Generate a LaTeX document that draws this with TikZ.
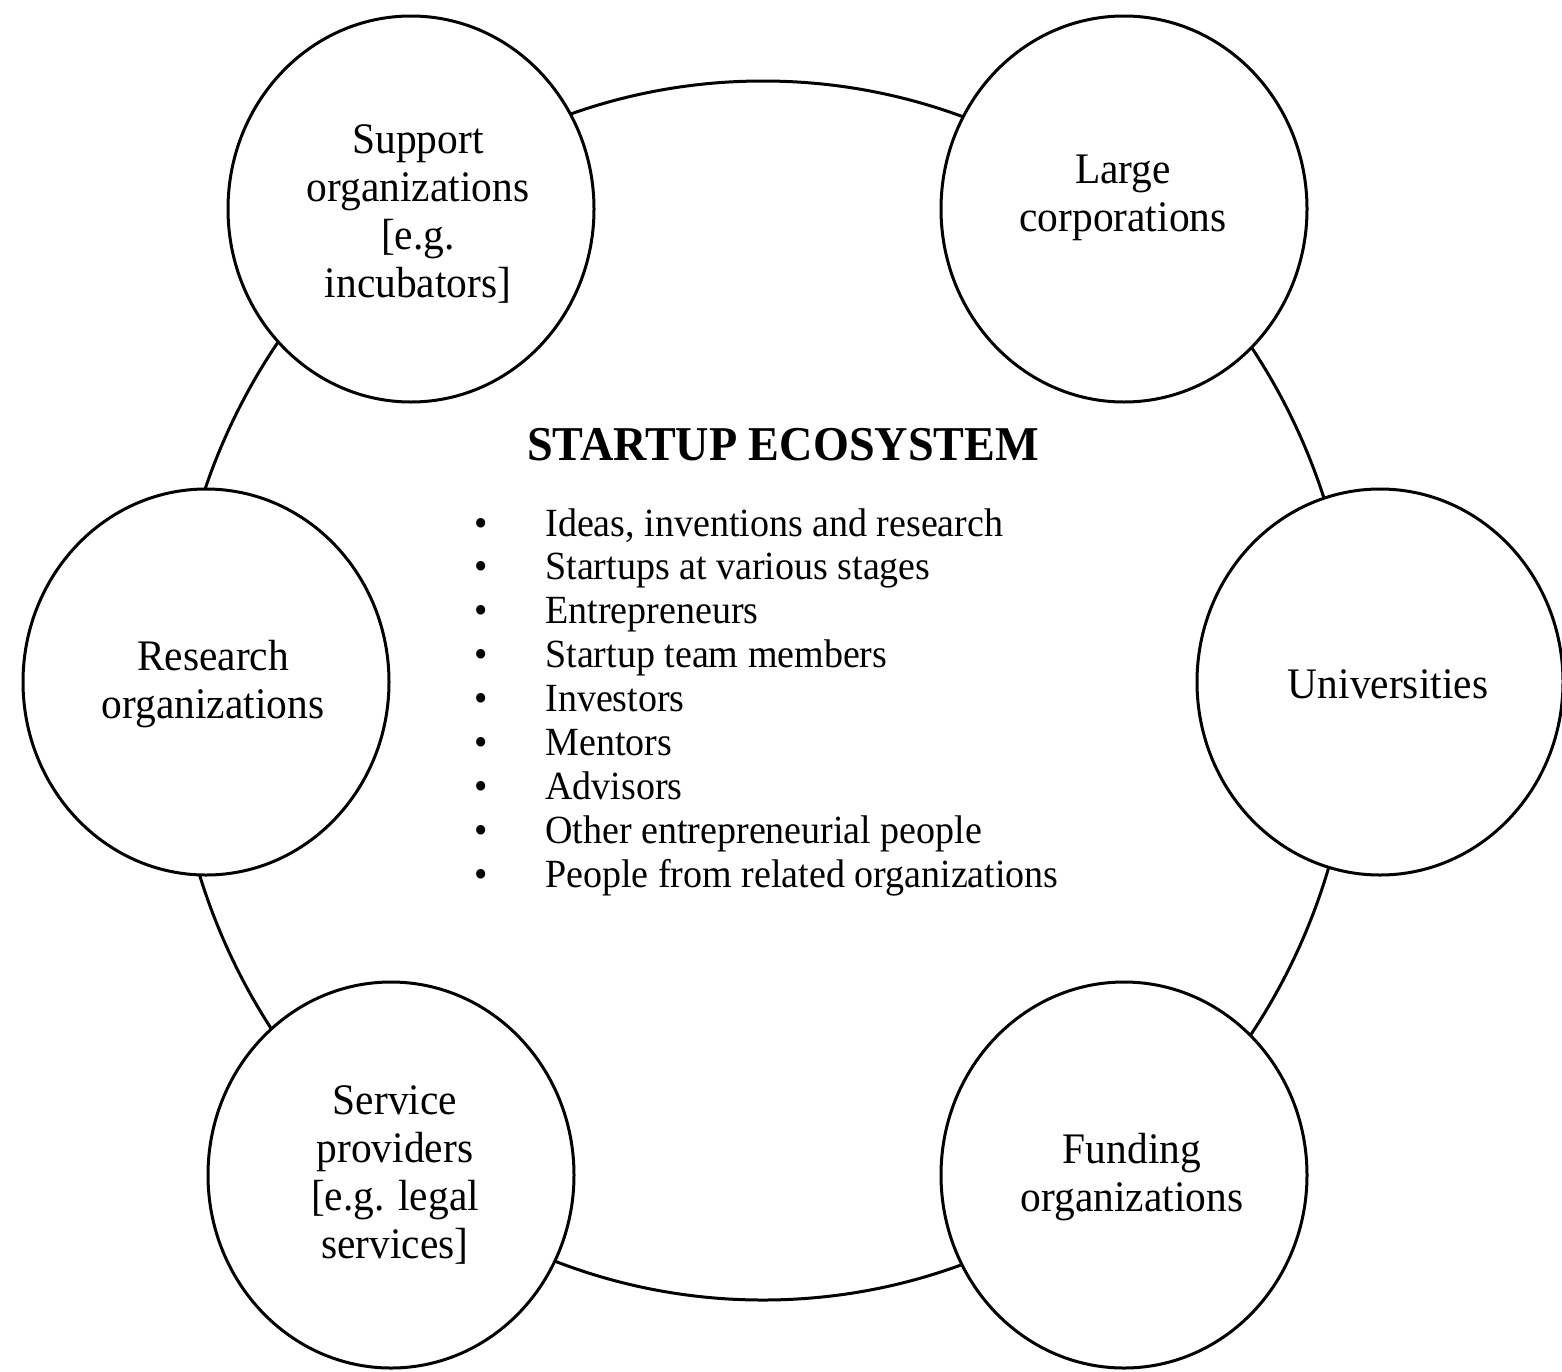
\documentclass[tikz,border=0pt]{standalone}
\usepackage{fontspec}
\setmainfont{Liberation Serif}[FakeStretch=0.95]
\usetikzlibrary{shapes.geometric}
\begin{document}
\begin{tikzpicture}[x=0.5pt,y=-0.5pt,
  ring/.style={draw, line width=1.5pt, ellipse, inner sep=0pt},
  member/.style={ring, fill=white, minimum width=183pt, minimum height=193pt},
  lbl/.style={inner sep=0pt, align=center, font=\fontsize{21.8}{24}\selectfont},
  titletext/.style={anchor=base, inner sep=0pt, font=\fontsize{24.3}{28}\selectfont\bfseries},
  listtext/.style={anchor=base west, inner sep=0pt, font=\fontsize{20}{21.95}\selectfont}
 ]
\useasboundingbox (0,0) rectangle (1562,1371);
\node[ring, minimum width=591pt, minimum height=609.5pt] (eco) at (763,690.5) {};
\node[member] (support) at (411,209) {};
\node[member] (large) at (1124,209) {};
\node[member] (research) at (206,682) {};
\node[member] (univ) at (1380,682) {};
\node[member] (service) at (391,1175) {};
\node[member] (funding) at (1124,1175) {};
\node[lbl] (supporttext) at ([shift={(7,5)}]support.center) {Support\\organizations\\{[e.g.}\\incubators]};
\node[lbl] (largetext) at ([shift={(-1,-11)}]large.center) {Large\\corporations};
\node[lbl] (researchtext) at ([shift={(7,2)}]research.center) {Research\\organizations};
\node[lbl] (univtext) at ([shift={(8,2)}]univ.center) {Universities};
\node[lbl] (servicetext) at ([shift={(4,0)}]service.center) {Service\\providers\\{[e.g. legal}\\services]};
\node[lbl] (fundingtext) at ([shift={(8,2)}]funding.center) {Funding\\organizations};
\node[titletext] (title) at (783,460) {STARTUP ECOSYSTEM};
\node[listtext] (items) at (474,536) {\renewcommand\arraystretch{1}%
\begin{tabular}[t]{@{}l@{}}
\makebox[35.5pt][l]{•}Ideas, inventions and research\\
\makebox[35.5pt][l]{•}Startups at various stages\\
\makebox[35.5pt][l]{•}Entrepreneurs\\
\makebox[35.5pt][l]{•}Startup team members\\
\makebox[35.5pt][l]{•}Investors\\
\makebox[35.5pt][l]{•}Mentors\\
\makebox[35.5pt][l]{•}Advisors\\
\makebox[35.5pt][l]{•}Other entrepreneurial people\\
\makebox[35.5pt][l]{•}People from related organizations
\end{tabular}};
\end{tikzpicture}
\end{document}
